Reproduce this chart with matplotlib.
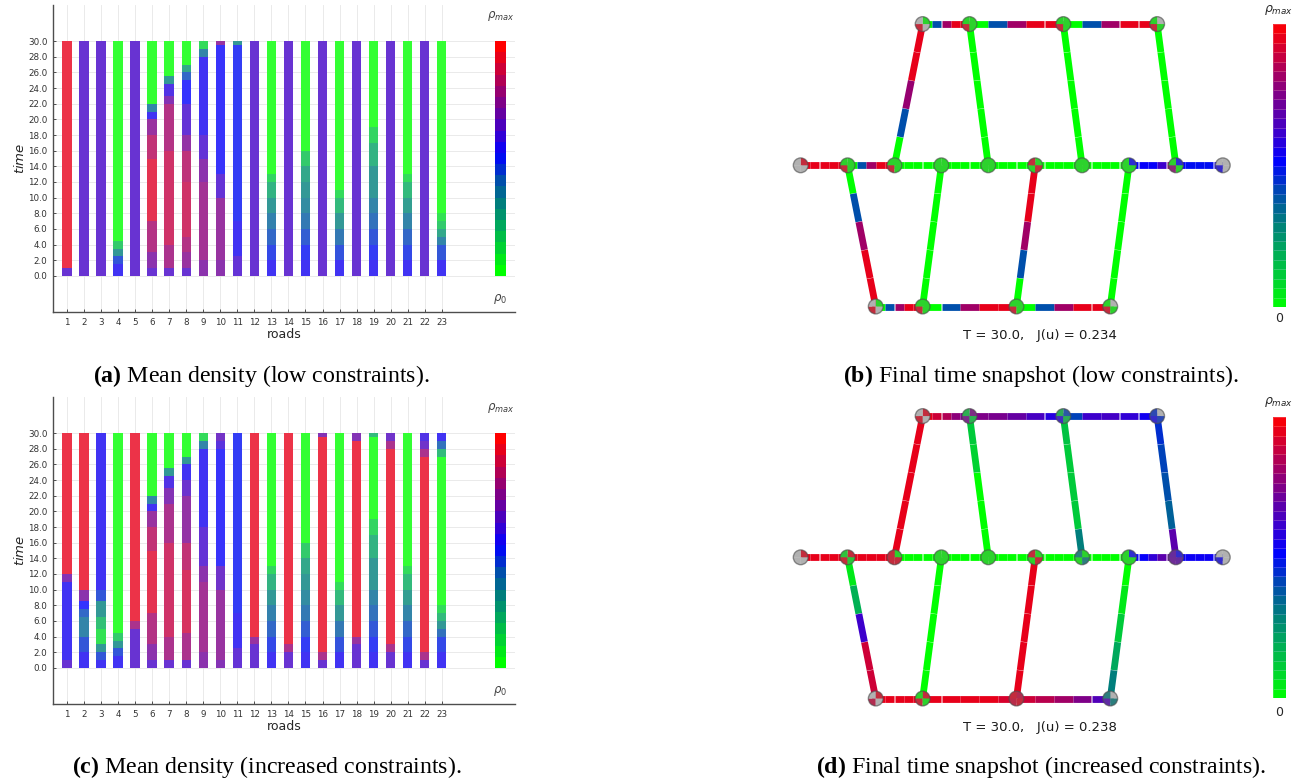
import numpy as np
import matplotlib
matplotlib.use("Agg")
import matplotlib.pyplot as plt
from matplotlib.colors import LinearSegmentedColormap
from matplotlib.patches import Wedge, Circle

plt.rcParams["mathtext.fontset"] = "custom"
plt.rcParams["mathtext.rm"] = "DejaVu Sans"
plt.rcParams["mathtext.it"] = "DejaVu Sans:italic"
plt.rcParams["mathtext.bf"] = "Liberation Serif:bold"

# ---------------- data ----------------
roads = list(range(1, 24))
t_end = 30.0
time_ticks = np.arange(0, 31, 2)

# mean density per road, as (start time, density / rho_max) steps
mean_low = [
    [(0, .63), (1, .95)],
    [(0, .63)],
    [(0, .63)],
    [(0, .55), (1.5, .45), (2.5, .3), (3.5, .15), (4.5, 0)],
    [(0, .63)],
    [(0, .63), (1, .72), (3, .82), (7, .93), (15, .85), (18, .75), (20, .55), (21, .35), (22, 0)],
    [(0, .63), (1, .8), (4, .88), (16, .82), (22, .7), (23, .58), (24.5, .3), (25.5, 0)],
    [(0, .63), (1, .75), (3, .82), (5, .88), (12, .84), (16, .74), (18, .62), (22, .52), (25, .42), (26, .25), (27, 0)],
    [(0, .72), (2, .78), (12, .72), (15, .62), (18, .55), (28, .35), (29, .1)],
    [(0, .72), (2, .75), (10, .62), (13, .53), (29.5, .75)],
    [(0, .62), (2.5, .55), (7, .5), (29.5, .3)],
    [(0, .63)],
    [(0, .55), (2, .48), (4, .42), (6, .36), (8, .3), (10, .22), (12, .12), (13, 0)],
    [(0, .63)],
    [(0, .55), (2, .5), (4, .44), (6, .38), (8, .33), (10, .3), (12, .25), (14, .15), (16, 0)],
    [(0, .63)],
    [(0, .55), (2, .46), (4, .38), (6, .3), (8, .2), (10, .1), (11, 0)],
    [(0, .63)],
    [(0, .55), (2, .5), (4, .45), (6, .4), (8, .35), (10, .3), (14, .22), (17, .12), (19, 0)],
    [(0, .63)],
    [(0, .55), (2, .48), (4, .42), (6, .35), (8, .28), (10, .2), (12, .1), (13, 0)],
    [(0, .63)],
    [(0, .55), (2, .45), (4, .35), (5, .25), (6, .15), (7, .08), (8, 0)],
]

mean_high = [
    [(0, .63), (1, .55), (11, .7), (12, .95)],
    [(0, .55), (2, .45), (4, .35), (6.5, .42), (7.5, .52), (8.5, .72), (10, .95)],
    [(0, .55), (1, .45), (2, .3), (3, .08), (5, .18), (6.5, .3), (8.5, .45), (10, .55)],
    [(0, .55), (1.5, .45), (2.5, .3), (3.5, .15), (4.5, 0)],
    [(0, .63), (5, .8), (6, .95)],
    [(0, .63), (1, .72), (3, .82), (7, .93), (15, .85), (18, .75), (20, .55), (21, .35), (22, 0)],
    [(0, .63), (1, .8), (4, .88), (16, .8), (21, .7), (23, .58), (24.5, .3), (25.5, 0)],
    [(0, .63), (1, .8), (4.5, .9), (12.5, .85), (16, .74), (22, .64), (24, .55), (26, .3), (27, 0)],
    [(0, .72), (2, .78), (11, .72), (13, .62), (18, .55), (28, .35), (29, .1)],
    [(0, .7), (1, .75), (10, .65), (13, .53), (28, .6), (29, .66)],
    [(0, .62), (2.5, .55), (7, .5)],
    [(0, .63), (3, .75), (4, .95)],
    [(0, .55), (2, .48), (4, .42), (6, .36), (8, .3), (10, .22), (12, .12), (13, 0)],
    [(0, .63), (2, .8), (3, .95)],
    [(0, .55), (2, .5), (4, .44), (6, .38), (8, .33), (10, .3), (12, .25), (14, .15), (16, 0)],
    [(0, .63), (1, .8), (2, .95), (29.5, .7)],
    [(0, .55), (2, .46), (4, .38), (6, .3), (8, .2), (10, .1), (11, 0)],
    [(0, .63), (3, .75), (4, .95), (29, .7)],
    [(0, .55), (2, .5), (4, .45), (6, .4), (8, .35), (10, .3), (14, .22), (17, .12), (19, 0), (29.5, .2)],
    [(0, .63), (2, .8), (3, .95), (28, .8), (29, .65)],
    [(0, .55), (2, .48), (4, .42), (6, .35), (8, .28), (10, .2), (12, .1), (13, 0)],
    [(0, .63), (1, .8), (2, .95), (27, .8), (28, .65), (29, .58)],
    [(0, .55), (2, .48), (4, .4), (5, .3), (6, .2), (7, .1), (8, 0), (27, .2), (28, .4), (29, .55)],
]

# network layout
node_pos = {"m%d" % i: (float(i), 0.0) for i in range(10)}
node_pos.update({"t0": (2.6, 3.0), "t1": (3.6, 3.0), "t2": (5.6, 3.0), "t3": (7.6, 3.0)})
node_pos.update({"b0": (1.6, -3.0), "b1": (2.6, -3.0), "b2": (4.6, -3.0), "b3": (6.6, -3.0)})

edges = [("m%d" % i, "m%d" % (i + 1)) for i in range(9)] + [
    ("t0", "t1"), ("t1", "t2"), ("t2", "t3"),
    ("b0", "b1"), ("b1", "b2"), ("b2", "b3"),
    ("m2", "t0"), ("m4", "t1"), ("m6", "t2"), ("m8", "t3"),
    ("m1", "b0"), ("m3", "b1"), ("m5", "b2"), ("m7", "b3"),
]

# density on the 5 cells of each road at T = 30 (from first node to second)
snap_low = [
    [.95, .95, .95, .95, .95],
    [0, .4, .82, .95, .95],
    [0, 0, 0, 0, 0],
    [0, 0, 0, 0, 0],
    [0, 0, 0, 0, 0],
    [0, 0, 0, 0, 0],
    [0, 0, 0, 0, 0],
    [.52, .53, .53, .62, .8],
    [.52, .5, .5, .5, .55],
    [0, .4, .82, .95, .95],
    [0, .4, .82, .95, .95],
    [0, .4, .82, .95, .95],
    [0, .4, .82, .95, .95],
    [0, .4, .82, .95, .95],
    [0, .4, .82, .95, .95],
    [0, .4, .8, .95, .95],
    [0, 0, 0, 0, 0],
    [0, 0, 0, 0, 0],
    [0, 0, 0, 0, 0],
    [0, .4, .82, .95, .95],
    [0, 0, 0, 0, 0],
    [.95, .95, .82, .4, 0],
    [0, 0, 0, 0, 0],
]

snap_high = [
    [.95, .95, .95, .95, .95],
    [.95, .95, .95, .95, .95],
    [0, 0, 0, 0, 0],
    [0, 0, 0, 0, 0],
    [0, 0, 0, 0, 0],
    [0, 0, 0, 0, 0],
    [0, 0, 0, 0, 0],
    [.53, .53, .6, .68, .7],
    [.54, .54, .54, .54, .54],
    [.95, .9, .85, .78, .74],
    [.75, .74, .7, .64, .58],
    [.42, .62, .63, .6, .55],
    [.95, .95, .95, .95, .95],
    [.95, .95, .95, .95, .92],
    [.9, .86, .82, .75, .66],
    [.95, .95, .95, .95, .95],
    [0, 0, 0, .1, .12],
    [.3, .12, .12, .12, .14],
    [.68, .36, .4, .42, .45],
    [.05, .18, .62, .9, .9],
    [0, 0, 0, 0, 0],
    [.95, .95, .95, .95, .95],
    [0, .05, .12, .2, .3],
]

cost_low = 0.234
cost_high = 0.238

captions = [
    (r"$\mathbf{(a)}$ Mean density (low constraints).", 261, 376),
    (r"$\mathbf{(b)}$ Final time snapshot (low constraints).", 1041, 376),
    (r"$\mathbf{(c)}$ Mean density (increased constraints).", 267, 767),
    (r"$\mathbf{(d)}$ Final time snapshot (increased constraints).", 1041, 767),
]

# ---------------- style ----------------
cmap = LinearSegmentedColormap.from_list("rho", [
    (0.00, (0.00, 1.00, 0.00)),
    (0.10, (0.00, 0.82, 0.20)),
    (0.20, (0.00, 0.66, 0.36)),
    (0.30, (0.00, 0.49, 0.49)),
    (0.40, (0.00, 0.31, 0.67)),
    (0.52, (0.00, 0.00, 1.00)),
    (0.62, (0.24, 0.00, 0.80)),
    (0.72, (0.43, 0.00, 0.60)),
    (0.82, (0.63, 0.00, 0.40)),
    (0.90, (0.80, 0.00, 0.22)),
    (1.00, (1.00, 0.00, 0.00)),
])

W, H = 1305, 783
fig = plt.figure(figsize=(W / 100, H / 100), dpi=100)


def px_axes(x0, y0, x1, y1):
    return fig.add_axes([x0 / W, 1 - y1 / H, (x1 - x0) / W, (y1 - y0) / H])


def faded(v, a=0.8):
    r, g, b, _ = cmap(v)
    return (a * r + 1 - a, a * g + 1 - a, a * b + 1 - a)


def draw_bars(ax, steps):
    for road, prof in zip(roads, steps):
        starts = [s[0] for s in prof]
        ends = starts[1:] + [t_end]
        for (t0, v), t1 in zip(prof, ends):
            ax.bar(road, t1 - t0, bottom=t0, width=0.55, color=faded(v), linewidth=0)
    # color scale drawn inside the axes
    levels = np.linspace(0, 1, 21)
    h = t_end / len(levels)
    for i, lv in enumerate(levels):
        ax.bar(26.45, h, bottom=i * h, width=0.65, color=cmap(lv), linewidth=0)
    ax.text(26.45, 33.2, r"$\rho_{max}$", ha="center", va="center", fontsize=8.5, color="0.25")
    ax.text(26.45, -3.0, r"$\rho_0$", ha="center", va="center", fontsize=8.5, color="0.25")

    ax.set_xlim(0.18, 27.3)
    ax.set_ylim(-4.6, 34.6)
    ax.set_xticks(roads)
    ax.set_xticklabels([str(r) for r in roads])
    ax.set_yticks(time_ticks)
    ax.set_yticklabels(["%.1f" % t for t in time_ticks])
    ax.tick_params(labelsize=6.3, length=2.5, width=0.7, direction="in", pad=4,
                   color="0.3", labelcolor="0.2")
    ax.grid(True, color="0.9", linewidth=0.6)
    ax.set_axisbelow(True)
    for side in ("top", "right"):
        ax.spines[side].set_visible(False)
    for side in ("left", "bottom"):
        ax.spines[side].set_color("0.3")
        ax.spines[side].set_linewidth(1.0)
    ax.set_xlabel("roads", fontsize=9, labelpad=1, color="0.15")
    ax.set_ylabel("$time$", fontsize=9.5, labelpad=1, color="0.15")


def draw_network(ax, vals, cost, cax, ytxt):
    gap = 0.003
    for (a, b), cells in zip(edges, vals):
        p, q = np.array(node_pos[a]), np.array(node_pos[b])
        d = q - p
        u = d / np.hypot(*d)
        n = len(cells)
        for k, v in enumerate(cells):
            s = p + d * k / n + u * gap
            e = p + d * (k + 1) / n - u * gap
            ax.plot([s[0], e[0]], [s[1], e[1]], color=cmap(v), lw=4.9,
                    solid_capstyle="butt", zorder=1)
    r = 0.157
    for name, xy in node_pos.items():
        ins = [c[-1] for (a, b), c in zip(edges, vals) if b == name]
        outs = [c[0] for (a, b), c in zip(edges, vals) if a == name]
        ll = ins[0] if ins else None
        ur = outs[0] if outs else None
        rest = ins[1:] + outs[1:]
        other = rest[0] if rest else None
        for t1, t2, v in [(180, 270, ll), (0, 90, ur), (90, 180, other), (270, 360, other)]:
            fc = cmap(v) if v is not None else (0.8, 0.8, 0.8)
            ax.add_patch(Wedge(xy, r, t1, t2, facecolor=fc, edgecolor="none", zorder=3))
        ax.add_patch(Circle(xy, r, facecolor=(0.5, 0.5, 0.5, 0.35),
                            edgecolor=(0.3, 0.3, 0.3, 0.6), lw=1.0, zorder=4))
    ax.set_xlim(-0.441, 9.58)
    ax.set_ylim(-3.817, 3.405)
    ax.set_axis_off()
    fig.text(1040 / W, 1 - ytxt / H, "T = 30.0,   J(u) = %.3f" % cost,
             ha="center", va="center", fontsize=9.5, color="0.1")

    steps = np.linspace(0, 1, 31)
    mids = (steps[:-1] + steps[1:]) / 2
    cax.pcolormesh([0, 1], steps, mids[:, None], cmap=cmap, vmin=0, vmax=1,
                   edgecolors=(1, 1, 1, 0.2), linewidth=0.4)
    cax.set_xlim(0, 1)
    cax.set_ylim(0, 1)
    cax.set_axis_off()


ax_a = px_axes(53, 5, 515, 312)
draw_bars(ax_a, mean_low)
ax_c = px_axes(53, 397, 515, 704)
draw_bars(ax_c, mean_high)

ax_b = px_axes(780, 5, 1250, 345)
cax_b = px_axes(1273, 24, 1286, 307)
draw_network(ax_b, snap_low, cost_low, cax_b, 335)
ax_d = px_axes(780, 397, 1250, 737)
cax_d = px_axes(1273, 417, 1286, 698)
draw_network(ax_d, snap_high, cost_high, cax_d, 728)

for y_top, y_zero in [(10, 319), (402, 712)]:
    fig.text(1279 / W, 1 - y_top / H, r"$\rho_{max}$", ha="center", va="center", fontsize=9, color="0.15")
    fig.text(1279 / W, 1 - y_zero / H, "0", ha="center", va="center", fontsize=9, color="0.15")

for txt, x, y in captions:
    fig.text(x / W, 1 - y / H, txt, ha="center", va="center", fontsize=17.2,
             family="Liberation Serif")

fig.savefig("out.png", dpi=100)
